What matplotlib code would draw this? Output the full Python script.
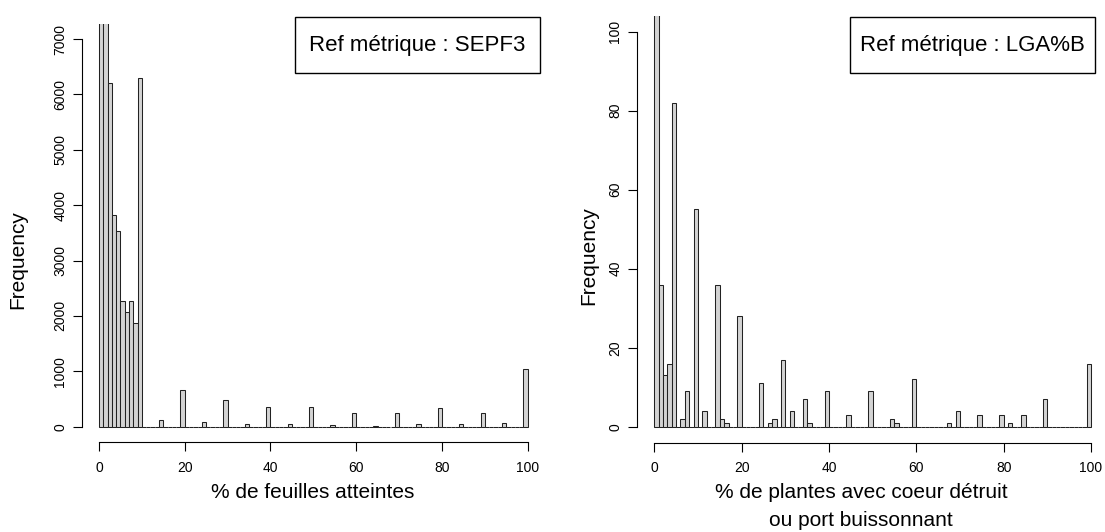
import numpy as np
import matplotlib
matplotlib.use("Agg")
import matplotlib.pyplot as plt
from matplotlib.patches import Rectangle

plt.rcParams['font.family'] = ['Liberation Sans', 'DejaVu Sans']

# counts per 1% bin (0-1, 1-2, ..., 99-100)
sepf3_counts = [7500, 7400, 6200, 3820, 3540, 2270, 2070, 2270, 1880, 6300,
                0, 0, 0, 0, 120, 0, 0, 0, 0, 670,
                0, 0, 0, 0, 80, 0, 0, 0, 0, 490,
                0, 0, 0, 0, 50, 0, 0, 0, 0, 360,
                0, 0, 0, 0, 50, 0, 0, 0, 0, 360,
                0, 0, 0, 0, 30, 0, 0, 0, 0, 250,
                0, 0, 0, 0, 20, 0, 0, 0, 0, 240,
                0, 0, 0, 0, 50, 0, 0, 0, 0, 330,
                0, 0, 0, 0, 55, 0, 0, 0, 0, 255,
                0, 0, 0, 0, 70, 0, 0, 0, 0, 1050]

lgab_counts = [110, 36, 13, 16, 82, 0, 2, 9, 0, 55,
               0, 4, 0, 0, 36, 2, 1, 0, 0, 28,
               0, 0, 0, 0, 11, 0, 1, 2, 0, 17,
               0, 4, 0, 0, 7, 1, 0, 0, 0, 9,
               0, 0, 0, 0, 3, 0, 0, 0, 0, 9,
               0, 0, 0, 0, 2, 1, 0, 0, 0, 12,
               0, 0, 0, 0, 0, 0, 0, 1, 0, 4,
               0, 0, 0, 0, 3, 0, 0, 0, 0, 3,
               0, 1, 0, 0, 3, 0, 0, 0, 0, 7,
               0, 0, 0, 0, 0, 0, 0, 0, 0, 16]

bin_edges = np.arange(0, 101)

W, H = 1105, 532
fig = plt.figure(figsize=(W / 100, H / 100), dpi=100)


def px_rect(x0, y0, x1, y1):
    # pixel box (top-down) -> figure fraction [left, bottom, width, height]
    return [x0 / W, 1 - y1 / H, (x1 - x0) / W, (y1 - y0) / H]


def r_hist(ax, counts, ymax, yticks):
    ax.bar(bin_edges[:-1], counts, width=1, align='edge',
           color='#d3d3d3', edgecolor='#222222', linewidth=0.75)
    ax.set_xlim(-4, 104)
    ax.set_ylim(-0.04 * ymax, 1.04 * ymax)
    for s in ['top', 'right']:
        ax.spines[s].set_visible(False)
    ax.spines['left'].set_bounds(0, ymax)
    ax.spines['bottom'].set_bounds(0, 100)
    ax.spines['left'].set_position(('axes', 0))
    ax.spines['bottom'].set_position(('axes', 0))
    ax.spines['bottom'].set_linewidth(0.8)
    ax.spines['left'].set_linewidth(0.8)
    ax.set_xticks(np.arange(0, 101, 20))
    ax.set_yticks(yticks)
    ax.tick_params(length=6.5, width=0.8, labelsize=10)
    ax.tick_params(axis='x', pad=7)
    ax.tick_params(axis='y', pad=4)
    for lab in ax.get_yticklabels():
        lab.set_rotation(90)
        lab.set_va('center')
    ax.patch.set_alpha(0)


ax1 = fig.add_axes(px_rect(81.9, 23.5, 544.8, 442.2))
r_hist(ax1, sepf3_counts, 7000, np.arange(0, 7001, 1000))

ax2 = fig.add_axes(px_rect(636.8, 15.9, 1108.5, 442.5))
r_hist(ax2, lgab_counts, 100, np.arange(0, 101, 20))

# axis titles
fig.text(18 / W, 1 - 260 / H, 'Frequency', rotation=90, ha='center', va='center', fontsize=15)
fig.text(589 / W, 1 - 256 / H, 'Frequency', rotation=90, ha='center', va='center', fontsize=15)
fig.text(313 / W, 1 - 492 / H, '% de feuilles atteintes', ha='center', va='center', fontsize=15)
fig.text(861 / W, 1 - 492 / H, '% de plantes avec coeur détruit', ha='center', va='center', fontsize=15)
fig.text(861 / W, 1 - 521 / H, 'ou port buissonnant', ha='center', va='center', fontsize=15)

# boxed metric labels
for (x0, x1), txt in [((295, 540), 'Ref métrique : SEPF3'), ((850, 1095), 'Ref métrique : LGA%B')]:
    fig.patches.append(Rectangle((x0 / W, 1 - 73 / H), (x1 - x0) / W, 56 / H,
                                 transform=fig.transFigure, fill=False,
                                 edgecolor='black', linewidth=1.0))
    fig.text((x0 + x1) / 2 / W, 1 - 45 / H, txt, ha='center', va='center', fontsize=16)

fig.savefig('out.png', dpi=100)
